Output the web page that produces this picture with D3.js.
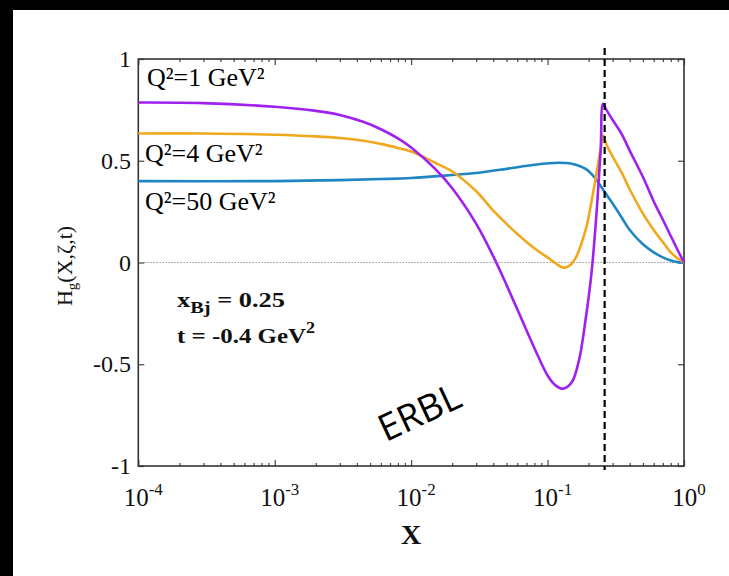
<!DOCTYPE html>
<html><head><meta charset="utf-8">
<script src="https://cdn.jsdelivr.net/npm/d3@7"></script>
<style>body{margin:0;background:#fff}svg{display:block}</style>
</head><body>
<svg id="c" width="729" height="576"></svg>
<script>
// ---------- data ----------
const xPurple = [1e-4, 3e-4, 1e-3, 2e-3, 3e-3, 4.5e-3, 6e-3, 8e-3, 0.01, 0.015, 0.02, 0.03, 0.04, 0.05, 0.06, 0.08, 0.1, 0.115, 0.13, 0.15, 0.17, 0.19, 0.21, 0.23, 0.245, 0.255, 0.27, 0.3, 0.35, 0.4, 0.5, 0.6, 0.7, 0.8, 0.9, 1];
const yPurple = [0.786, 0.783, 0.765, 0.745, 0.725, 0.69, 0.655, 0.61, 0.565, 0.46, 0.365, 0.19, 0.03, -0.11, -0.23, -0.42, -0.555, -0.605, -0.62, -0.59, -0.48, -0.28, -0.05, 0.27, 0.55, 0.78, 0.75, 0.70, 0.63, 0.55, 0.42, 0.30, 0.21, 0.13, 0.06, 0];

const xOrange = [1e-4, 3e-4, 1e-3, 2e-3, 3e-3, 4.5e-3, 6e-3, 8e-3, 0.01, 0.015, 0.02, 0.03, 0.04, 0.05, 0.06, 0.08, 0.1, 0.115, 0.13, 0.145, 0.16, 0.19, 0.21, 0.23, 0.245, 0.255, 0.27, 0.3, 0.35, 0.4, 0.5, 0.6, 0.7, 0.8, 0.9, 1];
const yOrange = [0.634, 0.634, 0.628, 0.62, 0.612, 0.598, 0.583, 0.563, 0.545, 0.49, 0.447, 0.35, 0.255, 0.19, 0.14, 0.07, 0.025, -0.005, -0.025, -0.015, 0.02, 0.16, 0.30, 0.45, 0.56, 0.625, 0.58, 0.52, 0.44, 0.36, 0.24, 0.16, 0.10, 0.05, 0.02, 0];

const xBlue = [1e-4, 1e-3, 3e-3, 6e-3, 0.01, 0.02, 0.03, 0.05, 0.08, 0.12, 0.15, 0.19, 0.22, 0.26, 0.3, 0.35, 0.4, 0.5, 0.6, 0.7, 0.8, 0.9, 1];
const yBlue = [0.40, 0.40, 0.405, 0.41, 0.415, 0.43, 0.44, 0.46, 0.48, 0.49, 0.485, 0.46, 0.42, 0.35, 0.29, 0.22, 0.16, 0.09, 0.05, 0.025, 0.01, 0.002, 0];

const seriesLabels = ["Q²=1 GeV²", "Q²=4 GeV²", "Q²=50 GeV²"];
const seriesColors = ["#a020f0", "#f0a81e", "#1f85c4"];
const xMajorTicks = [1e-4, 1e-3, 1e-2, 1e-1, 1];
const xTickExponents = ["-4", "-3", "-2", "-1", "0"];
const yTicks = [-1, -0.5, 0, 0.5, 1];
const yTickLabels = ["-1", "-0.5", "0", "0.5", "1"];
const xBjLine = 0.262;

// ---------- drawing ----------
const svg = d3.select("#c");
const L = 138.3, R = 684, T = 59, B = 466;
const x = d3.scaleLog().domain([1e-4, 1]).range([L, R]);
const y = d3.scaleLinear().domain([-1, 1]).range([B, T]);

// black border strips
svg.append("rect").attr("x", 0).attr("y", 0).attr("width", 729).attr("height", 10).attr("fill", "#000");
svg.append("rect").attr("x", 0).attr("y", 0).attr("width", 13).attr("height", 576).attr("fill", "#000");

const minorTicks = [];
for (let k = -4; k < 0; k++) for (let m = 2; m <= 9; m++) minorTicks.push(m * Math.pow(10, k));

function styleAxis(g) {
  g.select(".domain").remove();
  g.selectAll(".tick line").attr("stroke", "#444").attr("stroke-width", 1.2);
  g.selectAll(".tick text").remove();
}
svg.append("g").attr("transform", `translate(0,${B})`).call(d3.axisBottom(x).tickValues(xMajorTicks).tickSize(-6)).call(styleAxis);
svg.append("g").attr("transform", `translate(0,${B})`).call(d3.axisBottom(x).tickValues(minorTicks).tickSize(-3)).call(styleAxis);
svg.append("g").attr("transform", `translate(0,${T})`).call(d3.axisTop(x).tickValues(xMajorTicks).tickSize(-6)).call(styleAxis);
svg.append("g").attr("transform", `translate(0,${T})`).call(d3.axisTop(x).tickValues(minorTicks).tickSize(-3)).call(styleAxis);
svg.append("g").attr("transform", `translate(${L},0)`).call(d3.axisLeft(y).tickValues(yTicks).tickSize(-6)).call(styleAxis);
svg.append("g").attr("transform", `translate(${R},0)`).call(d3.axisRight(y).tickValues(yTicks).tickSize(-6)).call(styleAxis);

// zero dotted line
svg.append("line").attr("x1", L).attr("x2", R).attr("y1", y(0)).attr("y2", y(0))
  .attr("stroke", "#999").attr("stroke-width", 1.2).attr("stroke-dasharray", "1.5,1.5");

// frame
svg.append("rect").attr("x", L).attr("y", T).attr("width", R - L).attr("height", B - T)
  .attr("fill", "none").attr("stroke", "#333").attr("stroke-width", 1.6);

// curves
const line = d3.line().x(d => x(d[0])).y(d => y(d[1])).curve(d3.curveCatmullRom.alpha(0.5));
const series = [
  {xs: xBlue, ys: yBlue, c: seriesColors[2]},
  {xs: xOrange, ys: yOrange, c: seriesColors[1]},
  {xs: xPurple, ys: yPurple, c: seriesColors[0]},
];
series.forEach(s => {
  svg.append("path").datum(s.xs.map((v, i) => [v, s.ys[i]]))
    .attr("d", line).attr("fill", "none").attr("stroke", s.c).attr("stroke-width", 2.6)
    .attr("stroke-linejoin", "round");
});

// dashed x_Bj line
svg.append("line").attr("x1", x(xBjLine)).attr("x2", x(xBjLine)).attr("y1", T - 11).attr("y2", B + 4)
  .attr("stroke", "#000").attr("stroke-width", 2.2).attr("stroke-dasharray", "7,4");

// y tick labels
const serif = "'Liberation Serif', 'Times New Roman', serif";
yTicks.forEach((v, i) => {
  svg.append("text").attr("x", 131).attr("y", y(v) + 8).attr("text-anchor", "end")
    .attr("font-family", serif).attr("font-size", 24).attr("fill", "#111").text(yTickLabels[i]);
});
// x tick labels 10^k
xMajorTicks.forEach((v, i) => {
  const t = svg.append("text").attr("x", x(v) + 5).attr("y", 506).attr("text-anchor", "middle")
    .attr("font-family", serif).attr("font-size", 25).attr("fill", "#111");
  t.append("tspan").text("10");
  t.append("tspan").attr("dy", -11).attr("font-size", 17).text(xTickExponents[i]);
});
// x title
svg.append("text").attr("x", 411).attr("y", 544).attr("text-anchor", "middle")
  .attr("font-family", serif).attr("font-weight", "bold").attr("font-size", 28).attr("fill", "#111").text("X");
// y title
const yt = svg.append("text").attr("transform", "translate(72,266) rotate(-90)").attr("text-anchor", "middle")
  .attr("font-family", serif).attr("font-size", 22).attr("fill", "#111");
yt.append("tspan").text("H");
yt.append("tspan").attr("dy", 5).attr("font-size", 15).text("g");
yt.append("tspan").attr("dy", -5).text("(X,ζ,t)");

// series labels
const legendPos = [[147, 86], [145, 162], [145, 210]];
seriesLabels.forEach((s, i) => {
  svg.append("text").attr("x", legendPos[i][0]).attr("y", legendPos[i][1])
    .attr("font-family", serif).attr("font-size", 26).attr("fill", "#000").text(s);
});

// kinematics annotation
const a1 = svg.append("text").attr("x", 177).attr("y", 307).attr("font-family", serif)
  .attr("font-weight", "bold").attr("font-size", 22).attr("fill", "#111")
  .attr("textLength", 108).attr("lengthAdjust", "spacingAndGlyphs");
a1.append("tspan").text("x");
a1.append("tspan").attr("dy", 6).attr("font-size", 17).text("Bj");
a1.append("tspan").attr("dy", -6).text(" = 0.25");
const a2 = svg.append("text").attr("x", 177).attr("y", 343).attr("font-family", serif)
  .attr("font-weight", "bold").attr("font-size", 22).attr("fill", "#111")
  .attr("textLength", 138).attr("lengthAdjust", "spacingAndGlyphs");
a2.append("tspan").text("t = -0.4 GeV");
a2.append("tspan").attr("dy", -10).attr("font-size", 16).text("2");

// ERBL
svg.append("text").attr("transform", "translate(425,424) rotate(-25)").attr("text-anchor", "middle")
  .attr("font-family", "'Open Sans', Lato, sans-serif").attr("font-size", 37).attr("fill", "#000").text("ERBL");
</script>
</body></html>
